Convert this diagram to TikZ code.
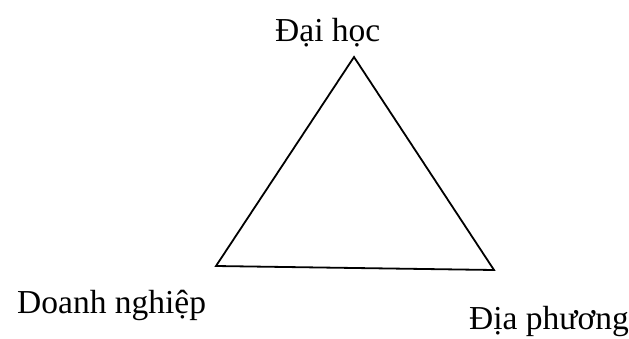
\documentclass[tikz,border=0pt]{standalone}
\usepackage{fontspec}
\setmainfont{Liberation Serif}
\begin{document}
\begin{tikzpicture}[x=1pt,y=-1pt,
  lbl/.style={font=\fontsize{33.5}{35}\selectfont, inner sep=0pt, anchor=base west},
  edge/.style={line width=1.8pt, line join=miter}]
\useasboundingbox (0,0) rectangle (629,338);
\coordinate (top) at (354,57);
\coordinate (bl) at (216,266);
\coordinate (br) at (494,270);
\draw[edge] (top) -- (bl) -- (br) -- cycle;
\node[lbl] (dh) at (275,41) {Đại học};
\node[lbl] (dn) at (17,313) {Doanh nghiệp};
\node[lbl] (dp) at (469,329) {Địa phương};
\end{tikzpicture}
\end{document}
